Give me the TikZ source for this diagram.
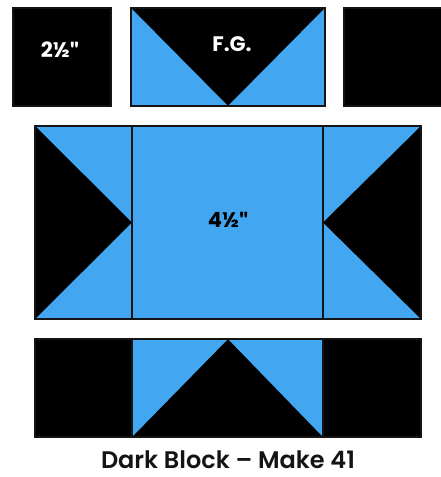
\documentclass[tikz,border=0pt]{standalone}
\usepackage{fontspec}
\setmainfont{Poppins}[UprightFont=* SemiBold,BoldFont=* Bold]
\newfontfamily\qfont{Lato}[UprightFont=* Bold,BoldFont=* Black]
\definecolor{qblue}{RGB}{66,167,240}
\definecolor{qline}{RGB}{20,20,20}
\newcommand{\dq}{{\qfont\symbol{34}}}
\begin{document}
\begin{tikzpicture}[x=1pt,y=-1pt,
  edge/.style={draw=qline,line width=1.3pt},
  blk/.style={fill=black},
  blu/.style={fill=qblue},
  lbl/.style={font=\fontsize{21}{21}\selectfont\bfseries,inner sep=0pt}]
\useasboundingbox (0,0) rectangle (441,477);
% top row
\filldraw[blk,edge] (13,8) rectangle (111,106);
\filldraw[blk,edge] (131,8) rectangle (325,106);
\fill[blu] (131,8) -- (131,106) -- (228,106) -- cycle;
\fill[blu] (325,8) -- (325,106) -- (228,106) -- cycle;
\draw[edge] (131,8) rectangle (325,106);
\filldraw[blk,edge] (344,8) rectangle (442,106);
\node[lbl,text=white] (a) at (60,50) {2½\dq};
\node[lbl,text=white] (fg) at (232,44) {F.G.};
% middle row
\fill[blu] (35,126) rectangle (421,319);
\fill[blk] (35,126) -- (132,222.5) -- (35,319) -- cycle;
\fill[blk] (421,126) -- (323,222.5) -- (421,319) -- cycle;
\draw[edge] (35,126) rectangle (421,319);
\draw[edge] (132,126) -- (132,319);
\draw[edge] (323,126) -- (323,319);
\node[lbl,text=black] (b) at (228,220) {4½\dq};
% bottom row
\fill[blk] (35,339) rectangle (421,437);
\fill[blu] (132,339) -- (228,339) -- (132,437) -- cycle;
\fill[blu] (323,339) -- (228,339) -- (323,437) -- cycle;
\draw[edge] (35,339) rectangle (421,437);
\draw[edge] (132,339) -- (132,437);
\draw[edge] (323,339) -- (323,437);
\node[font=\fontsize{24}{24}\selectfont,inner sep=0pt,text=qline,anchor=base] (t) at (228,468) {Dark Block – Make 41};
\end{tikzpicture}
\end{document}
